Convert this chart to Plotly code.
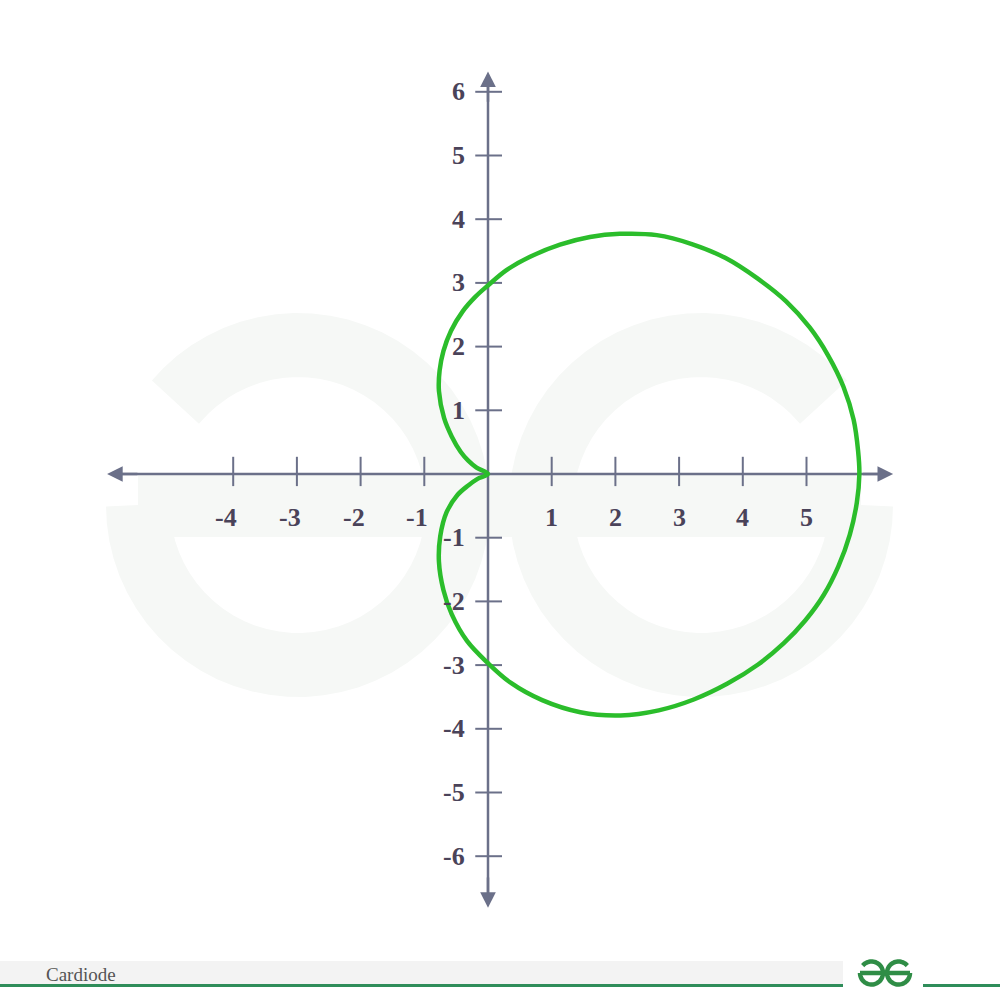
import numpy as np
import plotly.graph_objects as go

# ---- data (cardioid outline, data units) ----
curve_x = [0.00, -0.18, -0.31, -0.43, -0.57, -0.69, -0.77, -0.76, -0.70, -0.58, -0.40, -0.20, 0.00,
           0.29, 0.66, 1.13, 1.60, 2.07, 2.65, 3.20, 3.73, 4.23, 4.68, 5.05, 5.34, 5.58, 5.74, 5.81, 5.83,
           5.79, 5.68, 5.50, 5.27, 4.98, 4.64, 4.24, 3.76, 3.23, 2.68, 2.08, 1.45, 0.85, 0.36, 0.00,
           -0.33, -0.57, -0.70, -0.77, -0.75, -0.65, -0.48, -0.31, -0.17, 0.00]
curve_y = [0.00, 0.10, 0.21, 0.35, 0.59, 0.88, 1.30, 1.62, 1.93, 2.25, 2.55, 2.78, 2.96,
           3.20, 3.41, 3.60, 3.72, 3.77, 3.75, 3.61, 3.39, 3.07, 2.71, 2.30, 1.86, 1.37, 0.85, 0.36, 0.00,
           -0.45, -0.95, -1.45, -1.90, -2.30, -2.66, -2.99, -3.29, -3.54, -3.71, -3.79, -3.74, -3.55, -3.28, -2.97,
           -2.62, -2.20, -1.82, -1.38, -0.98, -0.60, -0.33, -0.18, -0.08, 0.00]

x_ticks = [-4, -3, -2, -1, 1, 2, 3, 4, 5]
x_tick_labels = ["-4", "-3", "-2", "-1", "1", "2", "3", "4", "5"]
y_ticks = [6, 5, 4, 3, 2, 1, -1, -2, -3, -4, -5, -6]
y_tick_labels = ["6", "5", "4", "3", "2", "1", "-1", "-2", "-3", "-4", "-5", "-6"]
caption = "Cardiode"

# ---- layout constants ----
W, H = 1000, 1001
X0PX, Y0PX, UNIT = 488, 474, 63.7
x_range = [-X0PX / UNIT, (W - X0PX) / UNIT]
y_range = [-(H - Y0PX) / UNIT, Y0PX / UNIT]
x_axis_ext = [-5.98, 6.36]
y_axis_ext = [-6.81, 6.32]

AXIS_COLOR = "#6b7089"
LABEL_COLOR = "#4a4359"
CURVE_COLOR = "#2bbd2b"
WM_COLOR = "#f6f8f6"
FOOT_GREEN = "#2f8d5a"
LOGO_GREEN = "#2f8d46"


def px2paper(px, py):
    return px / W, 1 - py / H


def arc_pts(cx, cy, r, a0, a1, n=60):
    a = np.radians(np.linspace(a0, a1, n))
    return [(cx + r * np.cos(t), cy - r * np.sin(t)) for t in a]


def path_from(pts):
    s = ""
    for i, (px, py) in enumerate(pts):
        u, v = px2paper(px, py)
        s += ("M" if i == 0 else "L") + f"{u:.5f},{v:.5f}"
    return s


def gfg_logo(cxl, cxr, cy, r, width, color, layer):
    shapes = []
    left = arc_pts(cxl, cy, r, 140, -180)
    right = arc_pts(cxr, cy, r, 40, 360)
    bar = [(cxl - r, cy), (cxr + r, cy)]
    for pts in (left, right, bar):
        shapes.append(dict(type="path", path=path_from(pts), xref="paper", yref="paper",
                           line=dict(color=color, width=width), layer=layer))
    return shapes


fig = go.Figure()

fig.add_trace(go.Scatter(
    x=curve_x, y=curve_y, mode="lines",
    line=dict(color=CURVE_COLOR, width=4.5, shape="spline", smoothing=1.0),
    hoverinfo="skip", showlegend=False,
))

shapes = []
# watermark
shapes += gfg_logo(298, 701, 505, 160, 64, WM_COLOR, "below")

# axes
shapes.append(dict(type="line", xref="x", yref="y", x0=x_axis_ext[0] + 0.1, x1=x_axis_ext[1] - 0.1, y0=0, y1=0,
                   line=dict(color=AXIS_COLOR, width=2.5), layer="below"))
shapes.append(dict(type="line", xref="x", yref="y", x0=0, x1=0, y0=y_axis_ext[0] + 0.1, y1=y_axis_ext[1] - 0.1,
                   line=dict(color=AXIS_COLOR, width=2.5), layer="below"))
# tick marks
for t in x_ticks:
    shapes.append(dict(type="line", xref="x", yref="y", x0=t, x1=t, y0=-0.19, y1=0.27,
                       line=dict(color=AXIS_COLOR, width=2), layer="below"))
for t in y_ticks:
    shapes.append(dict(type="line", xref="x", yref="y", x0=-0.2, x1=0.22, y0=t, y1=t,
                       line=dict(color=AXIS_COLOR, width=2), layer="below"))

# footer
fx0, fy0 = px2paper(0, 961)
fx1, fy1 = px2paper(843, 984)
shapes.append(dict(type="rect", xref="paper", yref="paper", x0=fx0, x1=fx1, y0=fy1, y1=fy0,
                   fillcolor="#f3f3f3", line=dict(width=0), layer="below"))
for a, b in ((0, 843), (923, 1000)):
    u0, v = px2paper(a, 985.5)
    u1, _ = px2paper(b, 985.5)
    shapes.append(dict(type="line", xref="paper", yref="paper", x0=u0, x1=u1, y0=v, y1=v,
                       line=dict(color=FOOT_GREEN, width=3)))
shapes += gfg_logo(871.5, 898.5, 973, 11.5, 4.5, LOGO_GREEN, "above")

annotations = []
lab_font = dict(family="Liberation Serif", size=26, color=LABEL_COLOR, weight="bold")
for t, lab in zip(x_ticks, x_tick_labels):
    annotations.append(dict(x=t, y=0, xref="x", yref="y", text=lab, showarrow=False,
                            font=lab_font, xanchor="center", yanchor="middle",
                            yshift=-43, xshift=(-7 if t < 0 else 0)))
for t, lab in zip(y_ticks, y_tick_labels):
    annotations.append(dict(x=0, y=t, xref="x", yref="y", text=lab, showarrow=False,
                            font=lab_font, xanchor="right", yanchor="middle", xshift=-21))

# arrow heads
arrow_common = dict(xref="x", yref="y", axref="x", ayref="y", text="", showarrow=True,
                    arrowhead=2, arrowsize=1.25, arrowwidth=2.5, arrowcolor=AXIS_COLOR)
annotations.append(dict(x=x_axis_ext[1], y=0, ax=x_axis_ext[1] - 0.5, ay=0, **arrow_common))
annotations.append(dict(x=x_axis_ext[0], y=0, ax=x_axis_ext[0] + 0.5, ay=0, **arrow_common))
annotations.append(dict(x=0, y=y_axis_ext[1], ax=0, ay=y_axis_ext[1] - 0.5, **arrow_common))
annotations.append(dict(x=0, y=y_axis_ext[0], ax=0, ay=y_axis_ext[0] + 0.5, **arrow_common))

cx, cy = px2paper(44, 974)
annotations.append(dict(x=cx, y=cy, xref="paper", yref="paper", text=caption, showarrow=False,
                        xanchor="left", yanchor="middle",
                        font=dict(family="Liberation Serif", size=19, color="#555555")))

fig.update_layout(
    width=W, height=H,
    margin=dict(l=0, r=0, t=0, b=0),
    paper_bgcolor="white", plot_bgcolor="white",
    xaxis=dict(range=x_range, visible=False, fixedrange=True),
    yaxis=dict(range=y_range, visible=False, fixedrange=True),
    shapes=shapes, annotations=annotations,
    showlegend=False,
)

fig.write_html("out.html", config={"displayModeBar": False},
               post_script="document.body.style.margin='0';document.body.style.overflow='hidden';")
